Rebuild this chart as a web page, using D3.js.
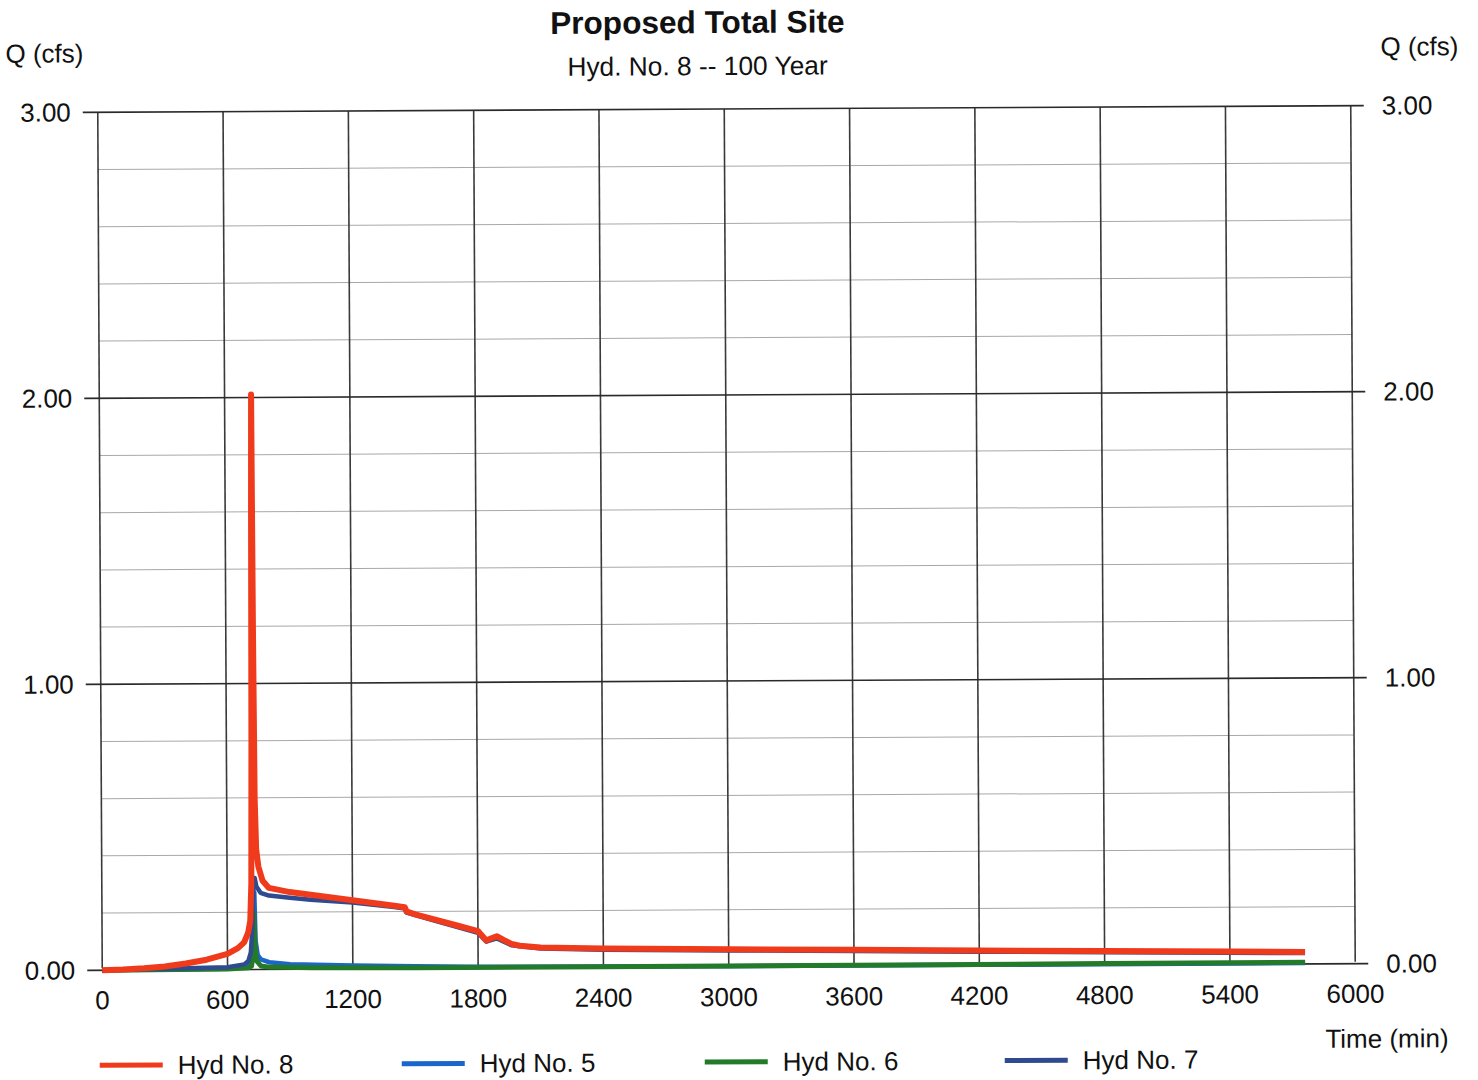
<!DOCTYPE html>
<html><head><meta charset="utf-8">
<script src="https://cdn.jsdelivr.net/npm/d3@7"></script>
<style>
html,body{margin:0;padding:0;background:#fff;}
text{font-family:"Liberation Sans",Arial,sans-serif;fill:#111;}
</style></head>
<body>
<svg id="chart" width="1478" height="1080"></svg>
<script>
// ---- data ----
const title = "Proposed Total Site";
const subtitle = "Hyd. No. 8 -- 100 Year";
const xTicks = [0,600,1200,1800,2400,3000,3600,4200,4800,5400,6000];
const yMajor = [0,1,2,3];
const yMinor = [0.2,0.4,0.6,0.8,1.2,1.4,1.6,1.8,2.2,2.4,2.6,2.8];
const seriesNames = ["Hyd No. 8","Hyd No. 5","Hyd No. 6","Hyd No. 7"];
const seriesColors = ["#f03a1c","#1a66cc","#237a28","#2f4a8e"];

const time8 = [0,100,200,300,400,500,600,650,680,700,710,716,720,724,727,730,734,740,750,770,800,900,1000,1100,1200,1300,1400,1450,1458,1500,1600,1700,1800,1840,1865,1890,1920,1960,2000,2100,2400,3000,3600,4200,4800,5400,5760];
const q8    = [0,0.002,0.006,0.012,0.022,0.035,0.055,0.075,0.095,0.13,0.17,0.3,0.8,1.6,2.01,1.2,0.6,0.42,0.36,0.31,0.285,0.27,0.26,0.25,0.24,0.23,0.22,0.215,0.2,0.19,0.17,0.15,0.13,0.097,0.105,0.112,0.1,0.085,0.078,0.072,0.067,0.062,0.058,0.053,0.049,0.045,0.042];

const time5 = [0,600,680,700,715,722,726,730,735,745,760,800,900,1200,1500,1800,2400,3000,4200,5760];
const q5    = [0,0.003,0.008,0.015,0.03,0.12,0.25,0.27,0.1,0.05,0.035,0.025,0.018,0.012,0.008,0.005,0.004,0.003,0.003,0.003];

const time6 = [0,600,700,715,722,727,732,740,760,800,1000,1500,2400,3600,4800,5760];
const q6    = [0,0.002,0.006,0.012,0.05,0.2,0.08,0.03,0.012,0.008,0.005,0.003,0.003,0.004,0.005,0.006];

const time7 = [0,600,680,700,712,720,726,732,740,760,800,900,1000,1200,1400,1450,1458,1600,1800,1840,1890,1960,2100,2400,3000,3600,4200,4800,5400,5760];
const q7    = [0,0.008,0.018,0.03,0.06,0.15,0.3,0.32,0.29,0.268,0.258,0.25,0.243,0.232,0.216,0.21,0.196,0.166,0.124,0.093,0.104,0.08,0.068,0.063,0.058,0.054,0.049,0.045,0.041,0.038];

// ---- chart ----
const svg = d3.select("#chart");
const g = svg.append("g").attr("transform","rotate(-0.3,726,538)");
const x = d3.scaleLinear().domain([0,6000]).range([100,1353]);
const y = d3.scaleLinear().domain([0,3]).range([967,109]);
const fmt = d3.format(".2f");

// minor horizontal gridlines
g.append("g").selectAll("line").data(yMinor).join("line")
  .attr("x1",x(0)).attr("x2",x(6000))
  .attr("y1",d=>y(d)).attr("y2",d=>y(d))
  .attr("stroke","#a8a8a8").attr("stroke-width",1);

// vertical gridlines
g.append("g").selectAll("line").data(xTicks).join("line")
  .attr("x1",d=>x(d)).attr("x2",d=>x(d))
  .attr("y1",y(3)).attr("y2",y(0)-2)
  .attr("stroke","#3a3a3a").attr("stroke-width",1.6);

// major horizontal gridlines with ticks outside
g.append("g").selectAll("line").data(yMajor).join("line")
  .attr("x1",x(0)-15).attr("x2",x(6000)+13)
  .attr("y1",d=>y(d)).attr("y2",d=>y(d))
  .attr("stroke","#2a2a2a").attr("stroke-width",1.6);

// left axis labels
g.append("g").selectAll("text").data(yMajor).join("text")
  .attr("x",73).attr("y",d=>y(d)+9)
  .attr("text-anchor","end").attr("font-size",26)
  .text(d=>fmt(d));
// right axis labels
g.append("g").selectAll("text").data(yMajor).join("text")
  .attr("x",1384).attr("y",d=>y(d)+9)
  .attr("text-anchor","start").attr("font-size",26)
  .text(d=>fmt(d));
// x labels
g.append("g").selectAll("text").data(xTicks).join("text")
  .attr("x",d=>x(d)).attr("y",1006)
  .attr("text-anchor","middle").attr("font-size",26)
  .text(d=>d);

// axis titles
g.append("text").attr("x",8).attr("y",59).attr("font-size",26).text("Q (cfs)");
g.append("text").attr("x",1383).attr("y",59).attr("font-size",26).text("Q (cfs)");
g.append("text").attr("x",1446).attr("y",1051).attr("text-anchor","end").attr("font-size",26).text("Time (min)");
g.append("text").attr("x",700).attr("y",33).attr("text-anchor","middle").attr("font-size",31.6).attr("font-weight","bold").text(title);
g.append("text").attr("x",700).attr("y",75).attr("text-anchor","middle").attr("font-size",26.3).text(subtitle);

// series
const series = [
  {t:time8,q:q8,i:0,w:6},
  {t:time5,q:q5,i:1,w:4.5},
  {t:time6,q:q6,i:2,w:5},
  {t:time7,q:q7,i:3,w:4.5}
];
const line = d3.line().x(d=>x(d[0])).y(d=>y(d[1]));
const drawOrder = [1,2,3,0];
drawOrder.forEach(k=>{
  const s = series[k];
  g.append("path").datum(d3.zip(s.t,s.q))
    .attr("d",line).attr("fill","none")
    .attr("stroke",seriesColors[s.i]).attr("stroke-width",s.w)
    .attr("stroke-linejoin","round").attr("stroke-linecap","butt");
});

// legend
const legX = [97,399,702,1002];
const leg = g.append("g").selectAll("g").data(seriesNames).join("g")
  .attr("transform",(d,i)=>`translate(${legX[i]},1062)`);
leg.append("line").attr("x1",0).attr("x2",63).attr("y1",0).attr("y2",0)
  .attr("stroke",(d,i)=>seriesColors[i]).attr("stroke-width",5);
leg.append("text").attr("x",78).attr("y",9).attr("font-size",26).text(d=>d);
</script>
</body></html>
